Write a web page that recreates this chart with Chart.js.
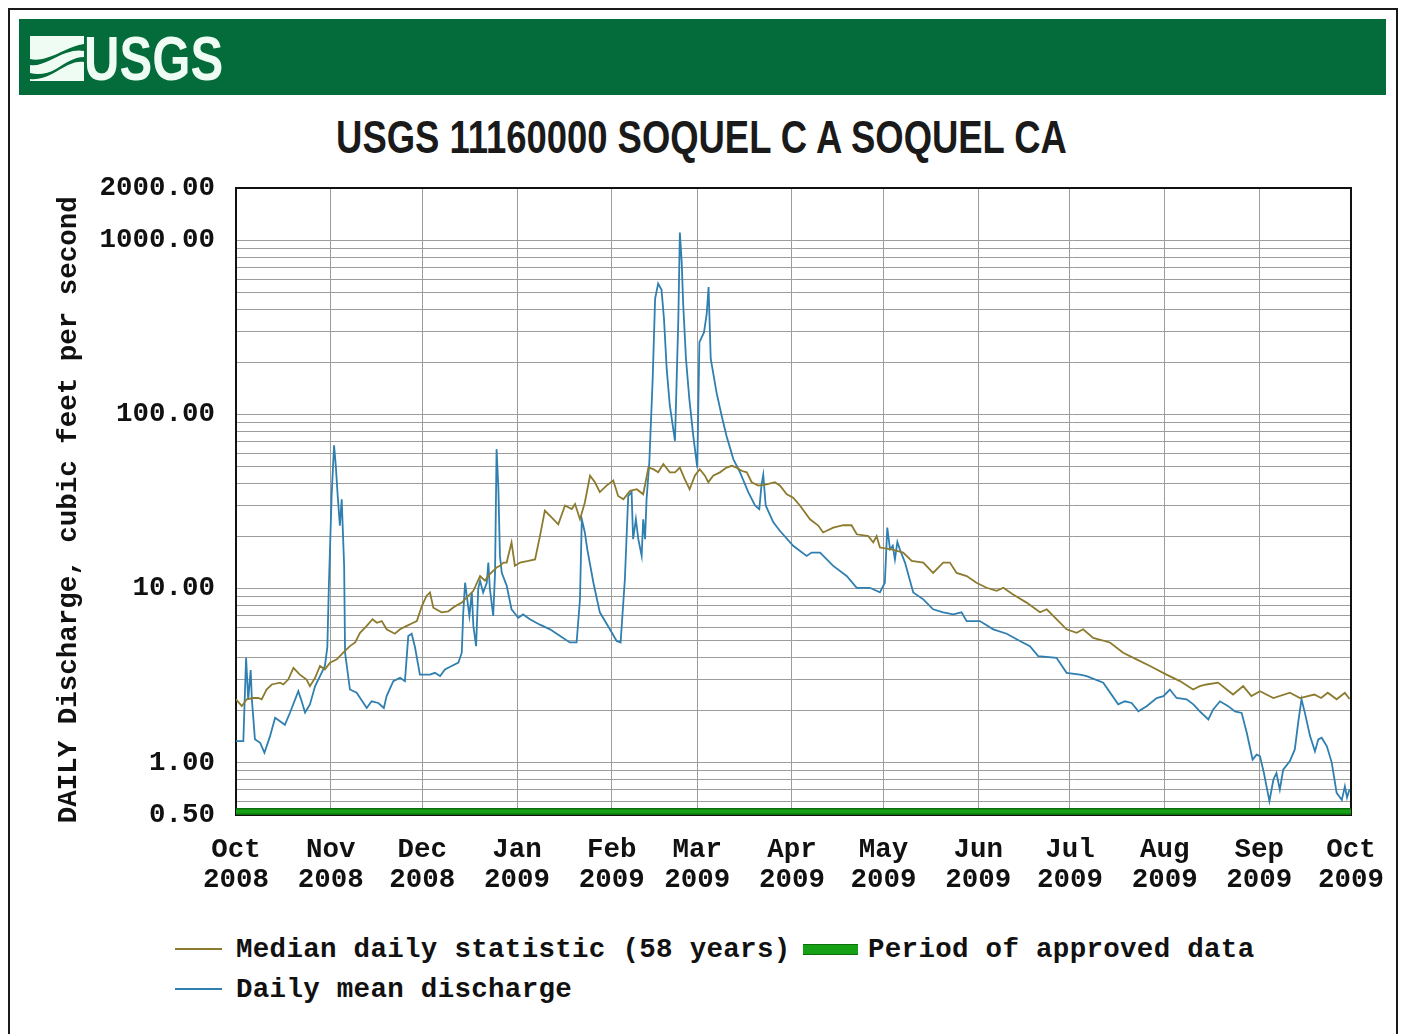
<!DOCTYPE html>
<html>
<head>
<meta charset="utf-8">
<title>USGS 11160000 SOQUEL C A SOQUEL CA</title>
<script src="https://cdn.jsdelivr.net/npm/chart.js@4.4.1/dist/chart.umd.min.js"></script>
<style>
  html, body { margin: 0; padding: 0; background: #fff; width: 1401px; height: 1034px; overflow: hidden; }
  .frame { position: absolute; left: 8px; top: 8px; width: 1390px; height: 1060px; border: 2px solid #1a1a1a; box-sizing: border-box; }
  .banner { position: absolute; left: 19px; top: 19px; width: 1367px; height: 76px; background: #046b3b; }
  .logo-icon { position: absolute; left: 30px; top: 35px; }
  .logo-text { position: absolute; left: 84px; top: 27px; font: bold 63px 'Liberation Sans', Arial, sans-serif; line-height: 63px; color: #eefcf3; transform: scaleX(0.78); transform-origin: left top; }
  .title { position: absolute; left: 1px; width: 1401px; top: 113px; text-align: center; font: bold 47px 'Liberation Sans', Arial, sans-serif; line-height: 47px; color: #1a1a1a; }
  .title span { display: inline-block; transform: scaleX(0.775); transform-origin: center; white-space: nowrap; }
  /* canvas is 3px wider than the window so the plot's right edge lands at 1351 */
  #wrap { position: absolute; left: 0; top: 152px; width: 1404px; height: 763px; }
  .lg { position: absolute; font: bold 27.5px 'Liberation Mono', 'DejaVu Sans Mono', monospace; line-height: 30px; color: #111; white-space: pre; letter-spacing: 0.3px; }
  .sample { position: absolute; height: 2px; width: 47px; left: 175px; }
</style>
</head>
<body>
<div class="frame"></div>
<div class="banner"></div>
<svg class="logo-icon" width="54" height="46" viewBox="0 0 54 46">
  <path d="M0 1 H54 V9 C40 11 30 19 16 23 C10 25 4 25 0 24 Z" fill="#eefcf3"/>
  <path d="M0 30 C12 32 24 22 36 18 C44 15 50 15 54 16 V22 C44 22 36 28 26 34 C18 39 8 40 0 38 Z" fill="#eefcf3"/>
  <path d="M0 44 C14 46 26 36 38 30 C44 27 50 26 54 27 V46 H0 Z" fill="#eefcf3"/>
</svg>
<div class="logo-text">USGS</div>
<div class="title"><span>USGS 11160000 SOQUEL C A SOQUEL CA</span></div>

<div id="wrap"><canvas id="chart"></canvas></div>

<div class="sample" style="top:948px;background:#8c7b2e"></div>
<div class="lg" style="left:236px;top:935px">Median daily statistic (58 years)</div>
<div style="position:absolute;left:803px;top:944px;width:55px;height:9px;background:#16a016;border-top:1px solid #0b6e0b;border-bottom:1px solid #0b6e0b"></div>
<div class="lg" style="left:868px;top:935px">Period of approved data</div>
<div class="sample" style="top:988px;background:#2f7fb0"></div>
<div class="lg" style="left:236px;top:975px">Daily mean discharge</div>

<script>
// x axis is days since 1 Oct 2008
const MONTH_DAYS  = [0, 31, 61, 92, 123, 151, 182, 212, 243, 273, 304, 335, 365];
const MONTH_NAMES = ['Oct','Nov','Dec','Jan','Feb','Mar','Apr','May','Jun','Jul','Aug','Sep','Oct'];
const MONTH_YEARS = ['2008','2008','2008','2009','2009','2009','2009','2009','2009','2009','2009','2009','2009'];
const Y_LABELS = [0.5, 1, 10, 100, 1000, 2000];
const APPROVED = [0, 365];

// daily mean discharge, cfs
const MEAN_DAYS = [0, 2.4, 3.3, 4.0, 4.8, 5.2, 6.2, 7.9, 9.3, 11.1,
  12.8, 14.4, 16.0, 17.7, 20.4, 21.5, 22.6, 24.2, 25.9, 27.5,
  29.1, 29.9, 30.4, 31.3, 32.1, 32.7, 33.2, 34.0, 34.6, 35.4,
  35.7, 37.3, 39.5, 42.8, 44.4, 46.6, 48.4, 49.3, 51.5, 53.7,
  55.3, 56.4, 57.5, 58.6, 60.2, 63.5, 65.1, 66.8, 68.4, 70.6,
  72.8, 73.9, 74.4, 75.0, 75.7, 76.4, 77.2, 77.7, 78.6, 79.3,
  79.9, 80.9, 82.1, 82.6, 83.1, 84.2, 84.8, 85.3, 85.9, 86.4,
  87.0, 88.6, 90.2, 92.4, 94.0, 96.2, 99.5, 102.8, 106.1, 109.3,
  111.5, 112.6, 113.2, 114.2, 115.0, 117.0, 119.1, 122.4, 124.6, 125.9,
  127.3, 128.4, 129.5, 130.0, 130.9, 131.7, 132.8, 133.3, 133.9, 134.4,
  135.3, 136.4, 137.2, 138.2, 139.3, 140.1, 141.0, 142.0, 143.7, 144.8,
  145.3, 145.9, 146.4, 147.3, 148.4, 149.7, 151.0, 151.7, 153.2, 154.1,
  154.7, 155.4, 157.3, 159.0, 160.6, 162.8, 165.0, 167.7, 169.9, 171.3,
  172.0, 172.6, 173.4, 175.9, 178.1, 182.4, 186.8, 188.4, 191.2, 195.5,
  199.9, 203.2, 207.5, 210.8, 212.4, 213.2, 214.1, 215.0, 215.7, 216.5,
  217.3, 219.0, 221.7, 225.0, 228.2, 231.5, 234.8, 237.5, 239.2, 243.5,
  247.9, 252.3, 256.6, 259.9, 262.6, 268.6, 271.9, 276.3, 278.5, 283.9,
  288.8, 291.0, 293.2, 295.4, 298.1, 301.4, 303.6, 305.7, 307.9, 311.2,
  313.4, 315.5, 318.3, 319.9, 322.1, 324.8, 327.0, 329.2, 330.9, 332.8,
  334.1, 335.2, 336.5, 338.3, 339.6, 340.6, 341.7, 342.8, 345.0, 346.6,
  347.7, 348.8, 349.9, 351.6, 353.2, 354.3, 355.4, 357.1, 358.7, 360.3,
  362.0, 363.0, 363.7, 364.5];
const MEAN_CFS = [1.33, 1.33, 4.0, 2.3, 3.4, 2.3, 1.36, 1.3, 1.14, 1.41,
  1.81, 1.73, 1.65, 1.94, 2.57, 2.25, 1.94, 2.16, 2.75, 3.14,
  3.59, 4.6, 10.4, 34, 66.5, 50, 36, 23, 32.6, 13.5,
  4.28, 2.63, 2.52, 2.06, 2.25, 2.2, 2.06, 2.41, 2.94, 3.07,
  2.94, 5.33, 5.5, 4.6, 3.2, 3.2, 3.28, 3.14, 3.43, 3.59,
  3.75, 4.28, 7.3, 10.8, 8.67, 6.96, 9.5, 6.1, 4.67, 10,
  11.1, 9.5, 10.8, 14.1, 10, 6.96, 12.3, 63.2, 37.2, 15.4,
  12.3, 10.4, 7.6, 6.8, 7.1, 6.66, 6.2, 5.83, 5.33, 4.9,
  4.9, 8.67, 25, 21, 16.8, 10.8, 7.3, 5.83, 5.0, 4.9,
  11.3, 34, 35.8, 19.2, 25, 19.2, 15.4, 25, 19.2, 32.6,
  53, 160, 463, 565, 520, 355, 182, 113, 70.6, 355,
  1110, 750, 425, 209, 123, 75, 49.5, 260, 296, 380,
  540, 209, 134, 98, 75, 55.4, 46.5, 35.8, 30, 28.6,
  39, 45, 30, 24, 21.4, 17.6, 15.4, 16.1, 16.1, 13.5,
  11.8, 10.1, 10.1, 9.5, 10.8, 22.4, 16.8, 17.6, 14.7, 18.5,
  16.8, 14.1, 9.5, 8.67, 7.6, 7.3, 7.1, 7.3, 6.5, 6.5,
  5.83, 5.5, 5.0, 4.67, 4.09, 4.0, 3.28, 3.2, 3.14, 2.88,
  2.16, 2.25, 2.2, 1.97, 2.11, 2.35, 2.41, 2.63, 2.35, 2.31,
  2.16, 1.97, 1.77, 2.02, 2.25, 2.11, 1.97, 1.93, 1.48, 1.04,
  1.11, 1.09, 0.87, 0.60, 0.80, 0.87, 0.70, 0.91, 1.02, 1.19,
  1.69, 2.31, 1.93, 1.42, 1.16, 1.36, 1.39, 1.24, 1.0, 0.67,
  0.61, 0.73, 0.63, 0.70];

// median daily statistic (58 years), cfs
const MEDIAN_DAYS = [0, 1.9, 3.5, 5.7, 7.3, 8.4, 10.0, 11.7, 14.4, 15.5,
  17.1, 18.8, 20.9, 23.1, 24.2, 25.9, 27.5, 29.1, 30.8, 33.0,
  35.1, 37.3, 39.0, 40.6, 42.8, 44.7, 46.1, 47.7, 49.3, 52.0,
  53.7, 55.9, 57.5, 59.2, 60.8, 62.4, 63.5, 64.6, 67.3, 69.5,
  71.7, 73.9, 77.7, 79.9, 81.5, 83.1, 85.3, 86.4, 87.5, 88.6,
  90.2, 91.3, 93.0, 95.7, 97.9, 99.5, 101.1, 103.3, 105.5, 107.7,
  109.9, 111.0, 112.6, 114.2, 115.9, 117.5, 119.1, 121.3, 123.5, 125.1,
  126.8, 129.0, 131.2, 133.3, 135.0, 136.6, 138.2, 139.9, 142.0, 143.7,
  145.3, 146.9, 148.5, 150.2, 151.8, 153.5, 154.6, 156.2, 158.4, 160.6,
  162.3, 163.9, 165.5, 167.2, 168.8, 171.0, 173.7, 176.4, 178.1, 180.3,
  182.4, 184.6, 187.9, 190.6, 192.2, 195.5, 198.8, 201.5, 203.2, 207.0,
  208.6, 209.7, 210.8, 214.6, 218.4, 221.2, 225.0, 228.2, 231.5, 233.7,
  235.9, 239.2, 242.4, 245.7, 249.0, 251.2, 254.4, 258.8, 263.2, 265.4,
  268.1, 271.9, 275.2, 277.3, 280.6, 286.1, 290.4, 294.8, 299.2, 304.6,
  309.0, 313.3, 315.5, 317.7, 321.5, 324.3, 326.4, 329.7, 332.4, 335.2,
  339.6, 345.0, 348.3, 353.0, 355.2, 357.4, 360.3, 363.0, 364.5];
const MEDIAN_CFS = [2.31, 2.11, 2.31, 2.35, 2.35, 2.31, 2.63, 2.81, 2.88, 2.81,
  3.0, 3.5, 3.2, 3.0, 2.75, 3.07, 3.59, 3.43, 3.75, 3.92,
  4.28, 4.67, 4.9, 5.57, 6.1, 6.66, 6.36, 6.5, 5.83, 5.5,
  5.83, 6.1, 6.3, 6.5, 7.9, 9.1, 9.5, 7.76, 7.3, 7.4,
  7.9, 8.3, 9.7, 11.8, 11.1, 12.1, 13.2, 13.5, 14.1, 14.1,
  18.4, 13.5, 14.1, 14.4, 14.7, 20, 28, 25.6, 23.4, 30,
  28.6, 30.6, 25, 31.2, 44.5, 40.8, 35.8, 39, 41.7, 34,
  32.6, 36.4, 37.2, 34.8, 49.5, 48.5, 46.5, 51.9, 46.5, 46.5,
  49.5, 42.5, 37.2, 44.5, 48.5, 44.5, 40.8, 44.5, 46.5, 49.5,
  50.7, 49.5, 47.5, 46.5, 40.8, 39, 39.7, 40.8, 39, 34.8,
  33.3, 30, 25, 23, 21, 22.4, 23.1, 23.1, 20.5, 20,
  18.4, 20, 17.2, 16.8, 16.1, 14.4, 14.1, 12.3, 14.1, 14.1,
  12.3, 11.8, 10.8, 10.1, 9.7, 10.1, 9.25, 8.3, 7.3, 7.6,
  6.8, 5.83, 5.57, 5.83, 5.2, 4.9, 4.28, 3.92, 3.59, 3.2,
  2.94, 2.63, 2.75, 2.81, 2.88, 2.63, 2.46, 2.75, 2.41, 2.57,
  2.35, 2.52, 2.35, 2.46, 2.35, 2.52, 2.31, 2.52, 2.32];

const MONO = "'Liberation Mono', 'DejaVu Sans Mono', monospace";
const tickFont = { family: MONO, size: 27.5, weight: 'bold', lineHeight: '30px' };

const pairs = (xs, ys) => xs.map((d, i) => ({ x: d, y: ys[i] }));

// black frame round the plot + green "approved data" bar along the bottom
const plotFrame = {
  id: 'plotFrame',
  beforeDatasetsDraw(chart) {
    const { ctx, chartArea: a } = chart;
    ctx.save();
    ctx.strokeStyle = '#111';
    ctx.lineWidth = 2;
    ctx.strokeRect(a.left, a.top, a.right - a.left, a.bottom - a.top);
    ctx.restore();
  },
  afterDatasetsDraw(chart) {
    const { ctx, chartArea: a, scales: { x } } = chart;
    ctx.save();
    ctx.strokeStyle = '#0b6e0b';
    ctx.lineWidth = 7;
    ctx.beginPath();
    ctx.moveTo(x.getPixelForValue(APPROVED[0]), a.bottom - 3.5);
    ctx.lineTo(x.getPixelForValue(APPROVED[1]), a.bottom - 3.5);
    ctx.stroke();
    ctx.strokeStyle = '#16a016';
    ctx.lineWidth = 4;
    ctx.stroke();
    ctx.restore();
  }
};

new Chart(document.getElementById('chart'), {
  type: 'line',
  data: {
    datasets: [
      { label: 'Median daily statistic (58 years)', data: pairs(MEDIAN_DAYS, MEDIAN_CFS),
        borderColor: '#8c7b2e', borderWidth: 1.8, pointRadius: 0, tension: 0 },
      { label: 'Daily mean discharge', data: pairs(MEAN_DAYS, MEAN_CFS),
        borderColor: '#2f7fb0', borderWidth: 1.8, pointRadius: 0, tension: 0 }
    ]
  },
  options: {
    responsive: true, maintainAspectRatio: false,
    devicePixelRatio: 1,
    animation: false,
    layout: { padding: { top: 0, right: 50, bottom: 0, left: 0 } },
    plugins: { legend: { display: false }, tooltip: { enabled: false } },
    scales: {
      x: {
        type: 'linear', min: 0, max: 365,
        afterBuildTicks: s => { s.ticks = MONTH_DAYS.map(v => ({ value: v })); },
        afterFit: s => { s.height = 100; },
        grid: { color: '#9c9c9c', lineWidth: 1, drawTicks: false },
        border: { display: false },
        ticks: {
          autoSkip: false, maxRotation: 0, padding: 20, color: '#111', font: tickFont,
          callback: v => {
            const i = MONTH_DAYS.indexOf(v);
            return i < 0 ? '' : [MONTH_NAMES[i], MONTH_YEARS[i]];
          }
        }
      },
      y: {
        type: 'logarithmic', min: 0.5, max: 2000,
        // plain 1-9 per decade grid, no 1.5/15/150 lines
        afterBuildTicks: s => {
          s.ticks = s.ticks.filter(t => {
            const m = t.value / Math.pow(10, Math.floor(Math.log10(t.value) + 1e-9));
            return Math.abs(m - 1.5) > 1e-6;
          });
        },
        afterFit: s => { s.width = 236; },
        grid: { color: '#9c9c9c', lineWidth: 1, drawTicks: false },
        border: { display: false },
        ticks: {
          autoSkip: false, padding: 21, color: '#111', font: tickFont,
          callback: v => Y_LABELS.some(l => Math.abs(l - v) < 1e-9) ? v.toFixed(2) : ''
        },
        title: {
          display: true, text: 'DAILY Discharge, cubic feet per second ', color: '#111',
          font: { family: MONO, size: 27.5, weight: 'bold' },
          padding: { top: 53, bottom: 0 }
        }
      }
    }
  },
  plugins: [plotFrame]
});
</script>
</body>
</html>
